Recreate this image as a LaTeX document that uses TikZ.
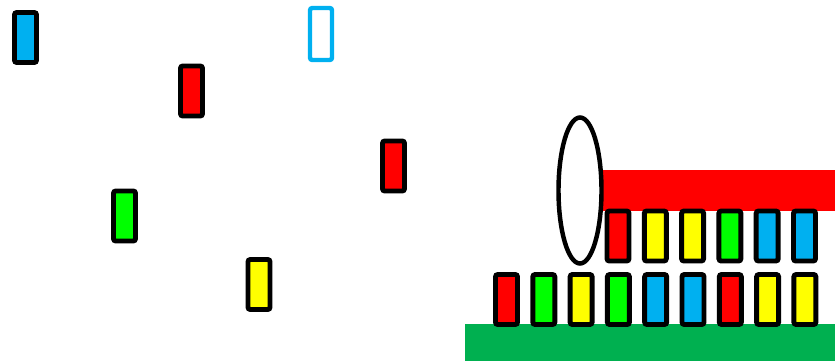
\documentclass[tikz,border=0pt]{standalone}
\usepackage{xcolor}
\usepackage{tikz}
\usetikzlibrary{shapes.geometric}
\definecolor{tileBlue}{HTML}{00B0F0}
\definecolor{tileRed}{HTML}{FF0000}
\definecolor{tileGreen}{HTML}{00FF00}
\definecolor{tileYellow}{HTML}{FFFF00}
\definecolor{baseGreen}{HTML}{00B050}

\begin{document}
\begin{tikzpicture}[x={(0.03cm,0)}, y={(0,-0.03cm)},
    tile/.style={draw=black, line width=4.2pt, rounded corners=2pt, inner sep=0pt,
                 minimum width=0.66cm, minimum height=1.5cm, fill=#1}]
    \useasboundingbox (0,0) rectangle (835,361);
    % loose tiles
    \node[tile=tileBlue] (lbl) at (25.5,37.5) {};
    \node[tile=white, draw=tileBlue, line width=3.8pt, minimum height=1.56cm] (ghost) at (321,34) {};
    \node[tile=tileRed] (lr1) at (191.5,91) {};
    \node[tile=tileRed] (lr2) at (393.5,166) {};
    \node[tile=tileGreen] (lgr) at (124.5,216) {};
    \node[tile=tileYellow] (lyl) at (259,284.5) {};
    % base and bar
    \fill[baseGreen] (465,324) rectangle (835,361);
    \fill[tileRed] (603,170) rectangle (835,211);
    \node[draw=black, line width=3.8pt, ellipse, inner sep=0pt,
          minimum width=1.29cm, minimum height=4.38cm] (loop) at (580,190.5) {};
    % stacked rows
    \foreach \c [count=\i from 0] in {tileRed,tileYellow,tileYellow,tileGreen,tileBlue,tileBlue}
        \node[tile=\c] (top\i) at (618+37.3*\i,236) {};
    \foreach \c [count=\i from 0] in {tileRed,tileGreen,tileYellow,tileGreen,tileBlue,tileBlue,tileRed,tileYellow,tileYellow}
        \node[tile=\c] (bot\i) at (506.5+37.3*\i,299.5) {};
\end{tikzpicture}
\end{document}
